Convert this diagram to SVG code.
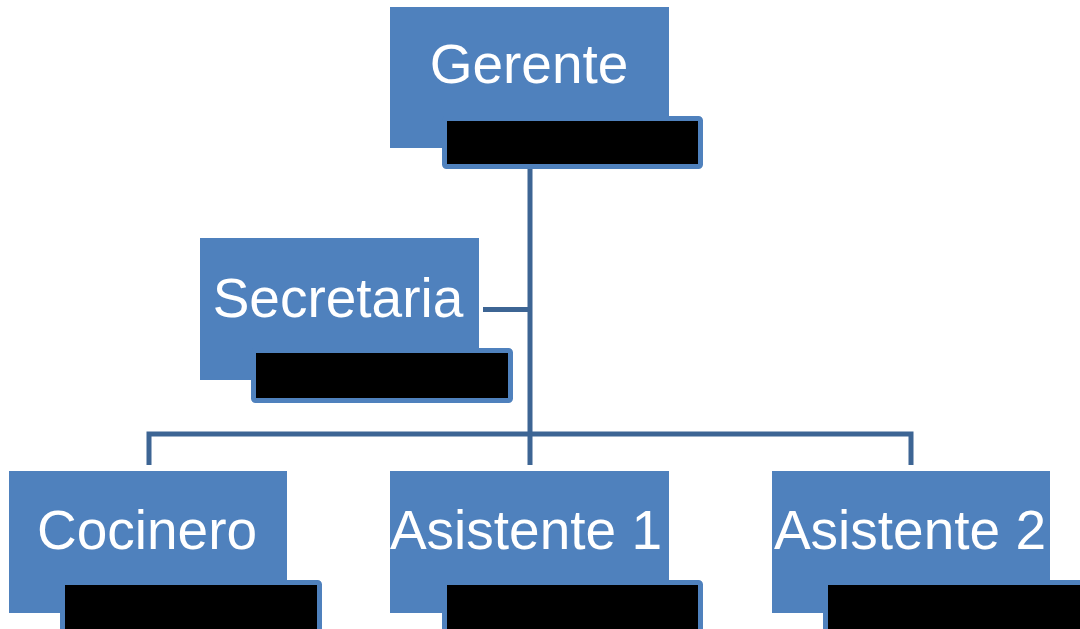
<svg xmlns="http://www.w3.org/2000/svg" width="1080" height="629" viewBox="0 0 1080 629">
<style>
.box{fill:#4f81bd}
.tag{fill:#000;stroke:#4f81bd;stroke-width:5}
.lbl{font-family:"Liberation Sans",Arial,sans-serif;font-size:55px;fill:#fff;text-anchor:middle}
.con{fill:none;stroke:#3d6594;stroke-width:5}
</style>
<rect width="1080" height="629" fill="#fff"/>
<g id="connectors">
<path class="con" d="M530 169V465"/>
<path class="con" d="M483 309.5H530"/>
<path class="con" d="M149 465V434H911V465"/>
</g>
<g id="gerente">
<rect class="box" x="390" y="7" width="279" height="141"/>
<rect class="tag" x="444.5" y="118.5" width="256" height="48" rx="2"/>
<text class="lbl" x="529" y="83">Gerente</text>
</g>
<g id="secretaria">
<rect class="box" x="200" y="238" width="279" height="142"/>
<rect class="tag" x="253.5" y="350.5" width="257" height="50" rx="2"/>
<text class="lbl" x="338" y="317">Secretaria</text>
</g>
<g id="cocinero">
<rect class="box" x="9" y="471" width="278" height="142"/>
<rect class="tag" x="62.5" y="582.5" width="257" height="60" rx="2"/>
<text class="lbl" x="147" y="549">Cocinero</text>
</g>
<g id="asistente1">
<rect class="box" x="390" y="471" width="279" height="142"/>
<rect class="tag" x="444.5" y="582.5" width="256" height="60" rx="2"/>
<text class="lbl" x="526" y="549">Asistente 1</text>
</g>
<g id="asistente2">
<rect class="box" x="772" y="471" width="278" height="142"/>
<rect class="tag" x="825.5" y="582.5" width="260" height="60" rx="2"/>
<text class="lbl" x="910" y="549">Asistente 2</text>
</g>
</svg>
